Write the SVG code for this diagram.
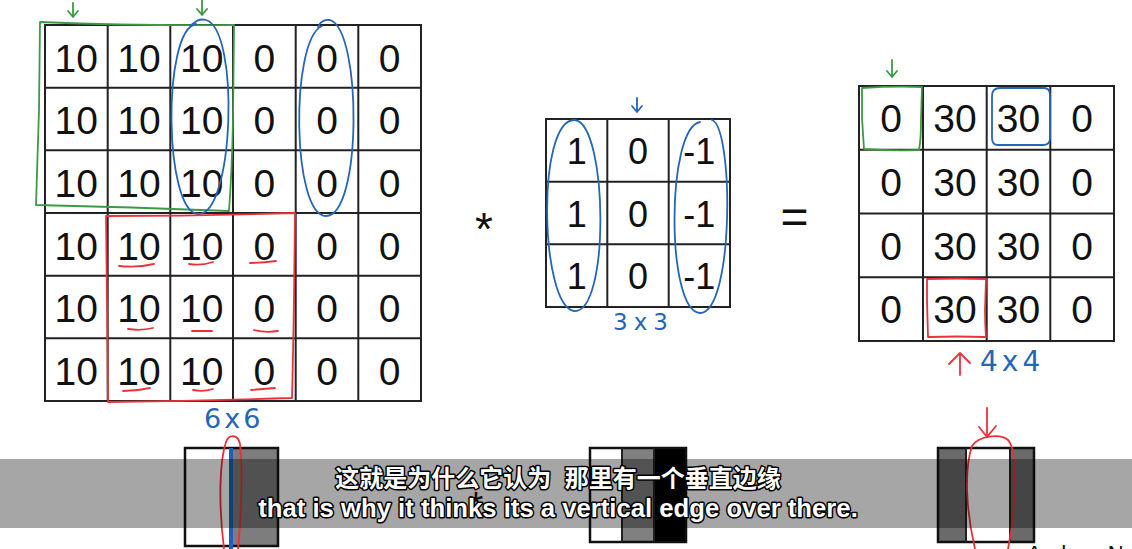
<svg xmlns="http://www.w3.org/2000/svg" width="1132" height="549" viewBox="0 0 1132 549">
<style>
.grid{fill:#fff;stroke:#222;stroke-width:2}
.ln{stroke:#222;stroke-width:2}
.num{font-family:"Liberation Sans",Arial,sans-serif;font-size:39px;fill:#111;text-anchor:middle}
.fnum{font-family:"Liberation Sans",Arial,sans-serif;font-size:36px;fill:#111;text-anchor:middle}
.sym{font-family:"Liberation Sans",Arial,sans-serif;fill:#111;text-anchor:middle}
.g{fill:none;stroke:#3c9a44;stroke-width:1.8;stroke-linecap:round;stroke-linejoin:round}
.b{fill:none;stroke:#2466b8;stroke-width:1.8;stroke-linecap:round;stroke-linejoin:round}
.r{fill:none;stroke:#e8333a;stroke-width:1.8;stroke-linecap:round;stroke-linejoin:round}
.hand{font-family:"DejaVu Sans","Liberation Sans",sans-serif;fill:#2466b8}
.img{stroke:#111;stroke-width:2.5}
.sub{font-family:"Liberation Sans","Noto Sans CJK SC",sans-serif;font-weight:bold;fill:#fff;stroke:#000;stroke-width:3;stroke-linejoin:round;paint-order:stroke;text-anchor:middle;white-space:pre}
</style>

<g id="input-matrix">
<rect class="grid" x="45" y="25" width="376" height="376"/>
<path class="ln" d="M107.7,25V401M170.3,25V401M233,25V401M295.7,25V401M358.3,25V401M45,87.7H421M45,150.3H421M45,213H421M45,275.7H421M45,338.3H421"/>
<g class="num">
<text x="76.3" y="71.7">10</text><text x="139" y="71.7">10</text><text x="201.7" y="71.7">10</text><text x="264.3" y="71.7">0</text><text x="327" y="71.7">0</text><text x="389.7" y="71.7">0</text>
<text x="76.3" y="134.4">10</text><text x="139" y="134.4">10</text><text x="201.7" y="134.4">10</text><text x="264.3" y="134.4">0</text><text x="327" y="134.4">0</text><text x="389.7" y="134.4">0</text>
<text x="76.3" y="197">10</text><text x="139" y="197">10</text><text x="201.7" y="197">10</text><text x="264.3" y="197">0</text><text x="327" y="197">0</text><text x="389.7" y="197">0</text>
<text x="76.3" y="259.7">10</text><text x="139" y="259.7">10</text><text x="201.7" y="259.7">10</text><text x="264.3" y="259.7">0</text><text x="327" y="259.7">0</text><text x="389.7" y="259.7">0</text>
<text x="76.3" y="322.4">10</text><text x="139" y="322.4">10</text><text x="201.7" y="322.4">10</text><text x="264.3" y="322.4">0</text><text x="327" y="322.4">0</text><text x="389.7" y="322.4">0</text>
<text x="76.3" y="385">10</text><text x="139" y="385">10</text><text x="201.7" y="385">10</text><text x="264.3" y="385">0</text><text x="327" y="385">0</text><text x="389.7" y="385">0</text>
</g>
<text class="hand" x="204" y="428" font-size="27" letter-spacing="3">6x6</text>
</g>

<g id="filter">
<rect class="grid" x="546" y="119" width="184" height="188"/>
<path class="ln" d="M607.3,119V307M668.7,119V307M546,181.7H730M546,244.3H730"/>
<g class="fnum">
<text x="576.7" y="164">1</text><text x="638" y="164">0</text><text x="699.3" y="164">-1</text>
<text x="576.7" y="226.7">1</text><text x="638" y="226.7">0</text><text x="699.3" y="226.7">-1</text>
<text x="576.7" y="289.3">1</text><text x="638" y="289.3">0</text><text x="699.3" y="289.3">-1</text>
</g>
<text class="hand" x="613" y="330" font-size="23" letter-spacing="6">3x3</text>
</g>

<g id="output-matrix">
<rect class="grid" x="859" y="86" width="255" height="255"/>
<path class="ln" d="M923,86V341M986.7,86V341M1050.3,86V341M859,149.75H1114M859,213.5H1114M859,277.25H1114"/>
<g class="num">
<text x="891" y="132">0</text><text x="955" y="132">30</text><text x="1018.5" y="132">30</text><text x="1082" y="132">0</text>
<text x="891" y="195.75">0</text><text x="955" y="195.75">30</text><text x="1018.5" y="195.75">30</text><text x="1082" y="195.75">0</text>
<text x="891" y="259.5">0</text><text x="955" y="259.5">30</text><text x="1018.5" y="259.5">30</text><text x="1082" y="259.5">0</text>
<text x="891" y="323.25">0</text><text x="955" y="323.25">30</text><text x="1018.5" y="323.25">30</text><text x="1082" y="323.25">0</text>
</g>
<text class="hand" x="980" y="371" font-size="28" letter-spacing="4">4x4</text>
</g>

<g id="operators">
<text class="sym" x="484" y="245" font-size="46">*</text>
<text class="sym" x="794.5" y="233" font-size="48">=</text>
</g>

<g id="images">
<g id="image-input">
<rect x="185" y="448" width="93" height="98" fill="#fff"/>
<rect x="231" y="448" width="47" height="98" fill="#7d7d7d"/>
<rect class="img" x="185" y="448" width="93" height="98" fill="none"/>
</g>
<g id="image-filter">
<rect x="590" y="448" width="32" height="94" fill="#fff"/>
<rect x="622" y="448" width="32" height="94" fill="#808080"/>
<rect x="654" y="448" width="32" height="94" fill="#000"/>
<rect class="img" x="590" y="448" width="96" height="94" fill="none"/>
<path class="ln" d="M622,448V542M654,448V542"/>
</g>
<g id="image-output">
<rect x="938" y="448" width="28" height="94" fill="#6a6a6a"/>
<rect x="966" y="448" width="44" height="94" fill="#fff"/>
<rect x="1010" y="448" width="24" height="94" fill="#6a6a6a"/>
<rect class="img" x="938" y="448" width="96" height="94" fill="none"/>
<path class="ln" d="M966,448V542M1010,448V542"/>
</g>
<text class="sym" x="476" y="519" font-size="38">*</text>
</g>

<g id="annotations">
<path class="g" d="M73,3V17M68,11L73,17L78,11M202,0V15M197,9L202,15L207,9M892,60V77M887,71L892,77L897,71"/>
<path class="g" d="M40,22Q140,26 234,25L233,120Q232,170 229,211Q130,207 36,205L39,110Z"/>
<path class="g" d="M862,88Q892,86 922,87L921,120Q921,140 919,150Q890,151 864,149L862,118Z"/>
<path class="b" d="M196,24C162,30 164,212 198,214C234,216 240,30 206,20C199,18 195,22 190,26"/>
<path class="b" d="M322,26C290,40 292,216 326,216C362,216 362,30 330,20C324,19 320,22 318,27"/>
<path class="b" d="M575,120C536,118 540,306 574,311C610,314 608,125 575,120Z"/>
<path class="b" d="M700,122C666,128 666,312 700,313C734,313 734,128 712,120"/>
<path class="b" d="M637,98V112M632,106L637,112L642,106"/>
<path class="b" d="M1000,88L1044,88Q1050,88 1050,95L1050,138Q1050,145 1043,145L998,145Q992,145 992,138L992,96Q992,88 1000,88Z"/>
<path class="r" d="M106,216Q200,216 295,213L294,300Q293,360 292,398Q200,401 108,402L107,300Z"/>
<path class="r" d="M119,266Q137,268 154,264M189,264Q201,266 213,262M250,263Q263,263 276,261M128,329Q141,331 153,328M192,331H212M254,330Q266,333 278,331M123,391Q137,391 150,388M193,390Q203,392 213,389M251,390Q263,389 275,388"/>
<path class="r" d="M927,279Q957,278 986,279L985,310Q985,325 986,337Q957,336 928,337L927,300Z"/>
<path class="r" d="M960,375V353M949,364L960,353L970,363"/>
<path d="M231,448V549" stroke="#1f5fbf" stroke-width="4"/>
<path class="r" d="M224,549C218,500 220,460 226,442C229,434 238,434 240,444C243,470 241,520 238,549"/>
<path class="r" d="M975,549C966,510 964,470 972,446C978,436 1000,433 1008,440C1018,450 1016,510 1008,549"/>
<path class="r" d="M987,408V437M979,427L987,437L996,426"/>
</g>

<g id="subtitle">
<rect x="0" y="459" width="1132" height="69" fill="#000" fill-opacity="0.35"/>
<text class="sub" x="558" y="487" font-size="24">这就是为什么它认为  那里有一个垂直边缘</text>
<text class="sub" x="558" y="517" font-size="25.7">that is why it thinks its a vertical edge over there.</text>
</g>
<text x="1027" y="561" font-family="Liberation Sans,Arial,sans-serif" font-size="22" fill="#111">Andrew Ng</text>
</svg>
